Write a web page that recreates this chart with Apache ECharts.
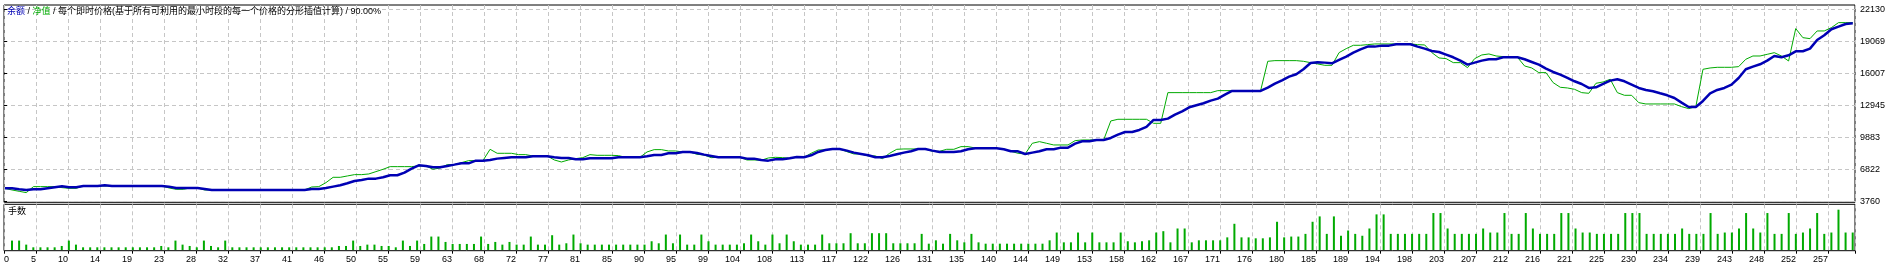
<!DOCTYPE html>
<html>
<head>
<meta charset="utf-8">
<script src="https://cdn.jsdelivr.net/npm/echarts/dist/echarts.min.js"></script>
<style>
html,body{margin:0;padding:0;background:#fff;}
#chart{width:1900px;height:268px;}
</style>
</head>
<body>
<div id="chart"></div>
<script>
// ---- data ----
const BALANCE = [
5000,5000,4908,4844,4908,4908,5004,5100,5195,5100,
5100,5227,5227,5227,5291,5227,5227,5227,5227,5227,
5227,5227,5227,5163,5036,5036,5036,5036,4940,4844,
4844,4844,4844,4844,4844,4844,4844,4844,4844,4844,
4844,4844,4844,4940,4940,5036,5163,5291,5482,5705,
5801,5929,5929,6056,6248,6248,6503,6886,7204,7141,
7013,7013,7141,7268,7396,7396,7651,7651,7715,7843,
7906,7970,7970,7970,8066,8066,8066,7970,7906,7906,
7779,7779,7874,7874,7874,7874,7970,7970,7970,7970,
8066,8193,8193,8353,8353,8480,8480,8385,8225,8098,
7970,7970,7970,7970,7843,7843,7715,7651,7779,7779,
7874,8002,7970,8161,8480,8672,8767,8767,8608,8417,
8289,8161,7970,7970,8098,8257,8417,8544,8767,8767,
8608,8480,8480,8480,8544,8735,8831,8831,8831,8831,
8735,8544,8544,8289,8417,8544,8735,8735,8895,8895,
9278,9501,9501,9628,9628,9820,10139,10394,10394,10585,
10872,11542,11542,11670,12053,12371,12754,12945,13137,13392,
13583,13966,14317,14317,14317,14317,14317,14636,15019,15338,
15688,15911,16390,16995,17060,17028,16964,17283,17602,17985,
18303,18559,18559,18654,18654,18782,18782,18782,18559,18367,
18144,18048,17793,17538,17219,16836,17028,17219,17347,17347,
17538,17538,17538,17347,17091,16836,16454,16134,15879,15560,
15242,14986,14604,14668,14986,15305,15433,15242,14923,14604,
14412,14285,14093,13902,13647,13200,12785,12785,13360,14093,
14412,14604,14923,15560,16390,16645,16868,17219,17665,17538,
17729,18112,18112,18367,19196,19643,20217,20472,20727,20791
];
const EQUITY = [
5000,4844,4717,4589,5163,5163,5163,5163,5068,5004,
5004,5227,5227,5227,5227,5227,5227,5227,5227,5227,
5227,5227,5227,5036,4908,4908,5036,5036,4844,4844,
4844,4844,4844,4844,4844,4844,4844,4844,4844,4844,
4844,4844,4844,5131,5163,5546,6056,6056,6184,6312,
6312,6375,6599,6822,7077,7077,7077,7077,7141,7141,
6822,6949,7268,7268,7460,7651,7651,7651,8735,8353,
8353,8353,8225,8225,8098,8098,8098,7715,7523,7715,
7843,7938,8225,8161,8161,8161,8130,7970,7970,7970,
8480,8704,8704,8576,8576,8480,8480,8257,8193,7938,
7970,7970,7970,7970,7715,7715,7683,7906,7970,7938,
7874,8002,7970,8353,8672,8672,8767,8767,8512,8289,
8289,8098,8098,7843,8353,8735,8767,8767,8767,8767,
8544,8544,8735,8735,8990,8990,8863,8831,8831,8831,
8735,8544,8353,8289,9310,9469,9310,9150,9150,9150,
9565,9628,9628,9628,9628,11446,11606,11606,11606,11606,
11606,11223,11223,14157,14157,14157,14157,14157,14157,14157,
14349,14349,14349,14317,14317,14317,14349,17155,17219,17219,
17219,17219,17155,17028,16900,16772,16772,17985,18367,18686,
18686,18750,18814,18814,18814,18814,18814,18814,18750,18718,
17985,17474,17410,17028,17028,16549,17410,17761,17857,17665,
17602,17602,17538,16709,16517,16071,16071,15114,14668,14604,
14476,14157,14093,15050,15178,15433,14157,13902,13902,13200,
13073,13073,13073,13073,13073,12818,12627,12818,16390,16517,
16581,16581,16581,16645,17347,17663,17663,17822,17981,17663,
17184,20284,19417,19322,20057,20057,20376,20855,20855,20855
];
// lots per trade (trades 1..260)
const VOLUME = [
0.07,0.07,0.04,0.02,0.02,0.02,0.02,0.03,0.07,0.04,
0.02,0.02,0.02,0.02,0.02,0.02,0.02,0.02,0.02,0.02,
0.02,0.03,0.02,0.07,0.04,0.03,0.02,0.07,0.03,0.02,
0.07,0.02,0.02,0.02,0.02,0.02,0.02,0.02,0.02,0.02,
0.02,0.02,0.02,0.02,0.02,0.02,0.03,0.03,0.07,0.03,
0.04,0.04,0.03,0.03,0.02,0.07,0.03,0.07,0.045,0.10,
0.10,0.06,0.045,0.045,0.045,0.045,0.10,0.045,0.06,0.04,
0.06,0.04,0.04,0.10,0.04,0.04,0.11,0.04,0.05,0.115,
0.05,0.04,0.04,0.04,0.04,0.04,0.04,0.04,0.04,0.04,
0.065,0.05,0.115,0.05,0.115,0.04,0.04,0.115,0.065,0.04,
0.04,0.04,0.04,0.05,0.115,0.065,0.04,0.115,0.05,0.115,
0.065,0.04,0.04,0.04,0.115,0.05,0.05,0.05,0.125,0.05,
0.05,0.125,0.125,0.125,0.05,0.05,0.05,0.05,0.12,0.047,
0.072,0.047,0.12,0.072,0.057,0.12,0.057,0.047,0.047,0.047,
0.047,0.047,0.047,0.047,0.047,0.047,0.072,0.13,0.057,0.057,
0.13,0.057,0.13,0.057,0.057,0.057,0.13,0.065,0.057,0.065,
0.072,0.13,0.14,0.057,0.16,0.16,0.057,0.072,0.072,0.072,
0.072,0.094,0.195,0.094,0.094,0.087,0.087,0.094,0.21,0.094,
0.10,0.10,0.12,0.21,0.25,0.12,0.25,0.106,0.145,0.12,
0.106,0.16,0.265,0.265,0.12,0.12,0.12,0.12,0.12,0.12,
0.275,0.275,0.16,0.12,0.12,0.12,0.12,0.16,0.13,0.13,
0.275,0.12,0.12,0.275,0.16,0.12,0.12,0.12,0.275,0.275,
0.16,0.13,0.13,0.12,0.12,0.12,0.12,0.275,0.275,0.275,
0.12,0.12,0.12,0.12,0.12,0.16,0.12,0.12,0.12,0.275,
0.12,0.13,0.13,0.16,0.275,0.16,0.13,0.275,0.12,0.12,
0.275,0.12,0.13,0.16,0.275,0.12,0.13,0.30,0.13,0.13
];
const X_TICK_LABELS = ['0','5','10','14','19','23','28','32','37','41','46','50','55','59','63','68','72','77','81','85','90','95','99','104','108','113','117','122','126','131','135','140','144','149','153','158','162','167','171','176','180','185','189','194','198','203','207','212','216','221','225','230','234','239','243','248','252','257'];
const Y_TICK_LABELS = ['3760','6822','9883','12945','16007','19069','22130'];
const TITLE_PARTS = ['余额', '净值', '每个即时价格(基于所有可利用的最小时段的每一个价格的分形插值计算)', '90.00%'];
const VOLUME_LABEL = '手数';

// ---- chart ----
const FONT = '"Liberation Sans", "Noto Sans CJK SC", sans-serif';
const BLUE = '#0000b4';
const GREEN = '#00aa00';
const DASH = { color: '#c6c6c6', type: [4, 3], width: 1 };
const LINE_X = BALANCE.map((_, i) => i);
const BAR_X = VOLUME.map((_, i) => i + 1);
const X_MAX = 1851 / 32;

const chart = echarts.init(document.getElementById('chart'), null, { renderer: 'canvas' });
chart.setOption({
  animation: false,
  backgroundColor: '#fff',
  textStyle: { fontFamily: FONT },
  title: [
    {
      left: 7, top: 7, padding: 0,
      text: '{b|' + TITLE_PARTS[0] + '} / {g|' + TITLE_PARTS[1] + '} / ' + TITLE_PARTS[2] + ' / ' + TITLE_PARTS[3],
      textStyle: {
        fontSize: 9, fontWeight: 'normal', color: '#000', fontFamily: FONT,
        rich: {
          b: { color: BLUE, fontSize: 9, fontFamily: FONT },
          g: { color: GREEN, fontSize: 9, fontFamily: FONT }
        }
      }
    },
    {
      left: 8, top: 207, padding: 0, text: VOLUME_LABEL,
      textStyle: { fontSize: 9, fontWeight: 'normal', color: '#000', fontFamily: FONT }
    }
  ],
  grid: [
    { left: 4, top: 5, width: 1851, height: 197.3, show: true, borderColor: '#000', borderWidth: 1, outerBoundsMode: 'none', containLabel: false },
    { left: 4, top: 9.3, width: 1851, height: 192, outerBoundsMode: 'none', containLabel: false },
    { left: 4.9, top: 9.3, width: 1847.9, height: 192, outerBoundsMode: 'none', containLabel: false },
    { left: 4, top: 204.3, width: 1851, height: 46.4, show: true, borderColor: '#000', borderWidth: 1, outerBoundsMode: 'none', containLabel: false },
    { left: 8.45, top: 204.3, width: 1847.8, height: 45.7, outerBoundsMode: 'none', containLabel: false }
  ],
  xAxis: [
    { gridIndex: 0, type: 'value', min: 0, max: X_MAX, interval: 1,
      axisLine: { show: false }, axisTick: { show: false }, axisLabel: { show: false },
      splitLine: { show: true, lineStyle: DASH } },
    { gridIndex: 1, type: 'value', show: false },
    { gridIndex: 2, type: 'category', data: LINE_X, boundaryGap: false, show: false },
    { gridIndex: 3, type: 'value', min: 0, max: X_MAX, interval: 1, position: 'bottom',
      axisLine: { show: false },
      axisTick: { show: true, length: 3, lineStyle: { color: '#000' } },
      axisLabel: { show: true, formatter: v => (X_TICK_LABELS[v] !== undefined ? X_TICK_LABELS[v] : ''),
        align: 'right', alignMinLabel: 'left', margin: 4, fontSize: 9, color: '#000', fontFamily: FONT, hideOverlap: false },
      splitLine: { show: true, lineStyle: DASH } },
    { gridIndex: 4, type: 'category', data: BAR_X, show: false }
  ],
  yAxis: [
    { gridIndex: 0, type: 'value', min: 0, max: 1, show: false },
    { gridIndex: 1, type: 'value', min: 0, max: 6, interval: 1, position: 'right',
      axisLine: { show: false },
      axisTick: { show: true, length: 3, lineStyle: { color: '#000' } },
      axisLabel: { show: true, formatter: v => (Y_TICK_LABELS[v] !== undefined ? Y_TICK_LABELS[v] : ''),
        margin: 5, fontSize: 9, color: '#000', fontFamily: FONT, hideOverlap: false },
      splitLine: { show: true, lineStyle: DASH } },
    { gridIndex: 2, type: 'value', min: 3760, max: 22130, show: false },
    { gridIndex: 3, type: 'value', min: 0, max: 1, show: false },
    { gridIndex: 4, type: 'value', min: 0, max: 0.34, show: false }
  ],
  series: [
    { name: '净值', type: 'line', xAxisIndex: 2, yAxisIndex: 2, data: EQUITY, symbol: 'none',
      lineStyle: { color: GREEN, width: 1 }, z: 3, silent: true },
    { name: '余额', type: 'line', xAxisIndex: 2, yAxisIndex: 2, data: BALANCE, symbol: 'none',
      lineStyle: { color: BLUE, width: 2.5 }, z: 4, silent: true },
    { name: '手数', type: 'bar', xAxisIndex: 4, yAxisIndex: 4, data: VOLUME, barWidth: 2,
      itemStyle: { color: GREEN }, silent: true }
  ]
});
</script>
</body>
</html>
